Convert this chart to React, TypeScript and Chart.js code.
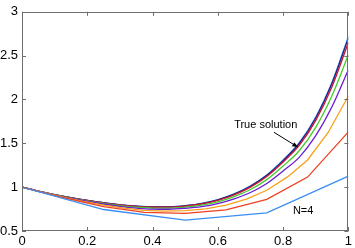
import React, { useEffect, useRef } from "react";
import { Chart, registerables } from "chart.js";

Chart.register(...registerables);

const xTicks = [0, 0.2, 0.4, 0.6, 0.8, 1];
const yTicks = [0.5, 1, 1.5, 2, 2.5, 3];

const x4 = [0, 0.25, 0.5, 0.75, 1];
const n4 = [1.0, 0.745, 0.625, 0.706, 1.125];

const x8 = [0, 0.125, 0.25, 0.375, 0.5, 0.625, 0.75, 0.875, 1];
const n8 = [1.0, 0.882, 0.779, 0.712, 0.7, 0.742, 0.86, 1.115, 1.63];

const x16 = [0, 0.0625, 0.125, 0.1875, 0.25, 0.3125, 0.375, 0.4375, 0.5, 0.5625, 0.625, 0.6875, 0.75, 0.8125, 0.875, 0.9375, 1];
const n16 = [1.0, 0.94, 0.886, 0.839, 0.796, 0.761, 0.736, 0.726, 0.732, 0.753, 0.796, 0.864, 0.965, 1.114, 1.31, 1.621, 2.04];

const xFine = [0, 0.05, 0.1, 0.15, 0.2, 0.25, 0.3, 0.35, 0.4, 0.45, 0.5, 0.55, 0.6, 0.65, 0.7, 0.75, 0.8, 0.85, 0.9, 0.95, 1];
const n32 = [1.0, 0.953, 0.91, 0.872, 0.839, 0.808, 0.781, 0.762, 0.75, 0.748, 0.758, 0.777, 0.812, 0.866, 0.939, 1.042, 1.185, 1.343, 1.587, 1.919, 2.34];
const n64 = [1.0, 0.954, 0.912, 0.876, 0.844, 0.815, 0.79, 0.772, 0.762, 0.761, 0.772, 0.794, 0.833, 0.892, 0.973, 1.086, 1.241, 1.418, 1.682, 2.045, 2.51];
const n128 = [1.0, 0.955, 0.914, 0.879, 0.848, 0.82, 0.797, 0.781, 0.771, 0.772, 0.784, 0.808, 0.85, 0.913, 1.001, 1.122, 1.287, 1.479, 1.761, 2.148, 2.65];
const n256 = [1.0, 0.955, 0.915, 0.88, 0.849, 0.822, 0.799, 0.784, 0.775, 0.775, 0.788, 0.813, 0.856, 0.92, 1.011, 1.135, 1.303, 1.501, 1.789, 2.185, 2.7];
const trueSol = [1.0, 0.955, 0.915, 0.88, 0.85, 0.823, 0.8, 0.785, 0.776, 0.777, 0.79, 0.815, 0.858, 0.923, 1.015, 1.14, 1.31, 1.51, 1.8, 2.2, 2.72];

const seriesNames = ["N=4", "N=8", "N=16", "N=32", "N=64", "N=128", "N=256", "True solution"];
const seriesColors = ["#3a8ef2", "#ee4023", "#f7a21b", "#6a1bd9", "#44cc2a", "#cc1133", "#22227a", "#3a9cff"];

// annotation anchors in data coordinates
const trueLabel = { text: "True solution", x: 0.65, y: 1.705 };
const trueArrow = { x0: 0.772, y0: 1.626, x1: 0.845, y1: 1.457 };
const n4Label = { text: "N=4", x: 0.83, y: 0.725 };

const FONT = "'Liberation Sans', Arial, Helvetica, sans-serif";

const zip = (xs: number[], ys: number[]) => xs.map((x, i) => ({ x, y: ys[i] }));

const boxPlugin = {
  id: "boxTicks",
  afterDatasetsDraw(chart: any) {
    const { ctx, chartArea: a, scales } = chart;
    const xs = scales.x;
    const ys = scales.y;
    ctx.save();
    ctx.strokeStyle = "#6e6e6e";
    ctx.lineWidth = 1;
    ctx.strokeRect(Math.round(a.left) + 0.5, Math.round(a.top) + 0.5, Math.round(a.right - a.left) - 1, Math.round(a.bottom - a.top) - 1);
    const L = 4;
    ctx.beginPath();
    xTicks.forEach((v) => {
      const px = Math.round(xs.getPixelForValue(v)) + 0.5;
      ctx.moveTo(px, a.bottom);
      ctx.lineTo(px, a.bottom - L);
      ctx.moveTo(px, a.top);
      ctx.lineTo(px, a.top + L);
    });
    yTicks.forEach((v) => {
      const py = Math.round(ys.getPixelForValue(v)) + 0.5;
      ctx.moveTo(a.left, py);
      ctx.lineTo(a.left + L, py);
      ctx.moveTo(a.right, py);
      ctx.lineTo(a.right - L, py);
    });
    ctx.stroke();

    // annotations
    ctx.fillStyle = "#000";
    ctx.font = `11px ${FONT}`;
    ctx.textBaseline = "middle";
    ctx.textAlign = "left";
    ctx.fillText(trueLabel.text, xs.getPixelForValue(trueLabel.x), ys.getPixelForValue(trueLabel.y));
    ctx.fillText(n4Label.text, xs.getPixelForValue(n4Label.x), ys.getPixelForValue(n4Label.y));

    const ax0 = xs.getPixelForValue(trueArrow.x0);
    const ay0 = ys.getPixelForValue(trueArrow.y0);
    const ax1 = xs.getPixelForValue(trueArrow.x1);
    const ay1 = ys.getPixelForValue(trueArrow.y1);
    ctx.strokeStyle = "#000";
    ctx.lineWidth = 1;
    ctx.beginPath();
    ctx.moveTo(ax0, ay0);
    ctx.lineTo(ax1, ay1);
    ctx.stroke();
    const ang = Math.atan2(ay1 - ay0, ax1 - ax0);
    const h = 6;
    ctx.beginPath();
    ctx.moveTo(ax1, ay1);
    ctx.lineTo(ax1 - h * Math.cos(ang - 0.4), ay1 - h * Math.sin(ang - 0.4));
    ctx.lineTo(ax1 - h * Math.cos(ang + 0.4), ay1 - h * Math.sin(ang + 0.4));
    ctx.closePath();
    ctx.fillStyle = "#000";
    ctx.fill();
    ctx.restore();
  },
};

export default function App() {
  const ref = useRef<HTMLCanvasElement | null>(null);

  useEffect(() => {
    if (!ref.current) return;
    const dataSets = [
      zip(x4, n4),
      zip(x8, n8),
      zip(x16, n16),
      zip(xFine, n32),
      zip(xFine, n64),
      zip(xFine, n128),
      zip(xFine, n256),
      zip(xFine, trueSol),
    ];
    const chart = new Chart(ref.current, {
      type: "line",
      data: {
        datasets: dataSets.map((d, i) => ({
          label: seriesNames[i],
          data: d,
          borderColor: seriesColors[i],
          backgroundColor: seriesColors[i],
          borderWidth: 1.3,
          pointRadius: 0,
          fill: false,
          tension: 0,
          cubicInterpolationMode: i >= 3 ? "monotone" : "default",
        })) as any,
      },
      options: {
        animation: false,
        responsive: false,
        maintainAspectRatio: false,
        layout: { padding: { top: 8, right: 4, left: 0, bottom: 0 } },
        plugins: { legend: { display: false }, tooltip: { enabled: false } },
        scales: {
          x: {
            type: "linear",
            min: 0,
            max: 1,
            grid: { display: false, drawTicks: false },
            border: { display: false },
            afterBuildTicks: (s: any) => {
              s.ticks = xTicks.map((v) => ({ value: v }));
            },
            afterFit: (s: any) => {
              s.height = 17;
            },
            ticks: {
              padding: 3,
              color: "#000",
              font: { family: FONT, size: 13 },
              maxRotation: 0,
              callback: (v: any) => String(v),
            },
          },
          y: {
            type: "linear",
            min: 0.5,
            max: 3,
            grid: { display: false, drawTicks: false },
            border: { display: false },
            afterBuildTicks: (s: any) => {
              s.ticks = yTicks.map((v) => ({ value: v }));
            },
            afterFit: (s: any) => {
              s.width = 22;
            },
            ticks: {
              padding: 4,
              color: "#000",
              font: { family: FONT, size: 13 },
              callback: (v: any) => String(v),
            },
          },
        },
      },
      plugins: [boxPlugin],
    });
    return () => chart.destroy();
  }, []);

  return (
    <div style={{ position: "fixed", left: 0, top: 0, width: 355, height: 248, background: "#fff" }}>
      <canvas ref={ref} width={355} height={248} style={{ width: 355, height: 248, display: "block" }} />
    </div>
  );
}
